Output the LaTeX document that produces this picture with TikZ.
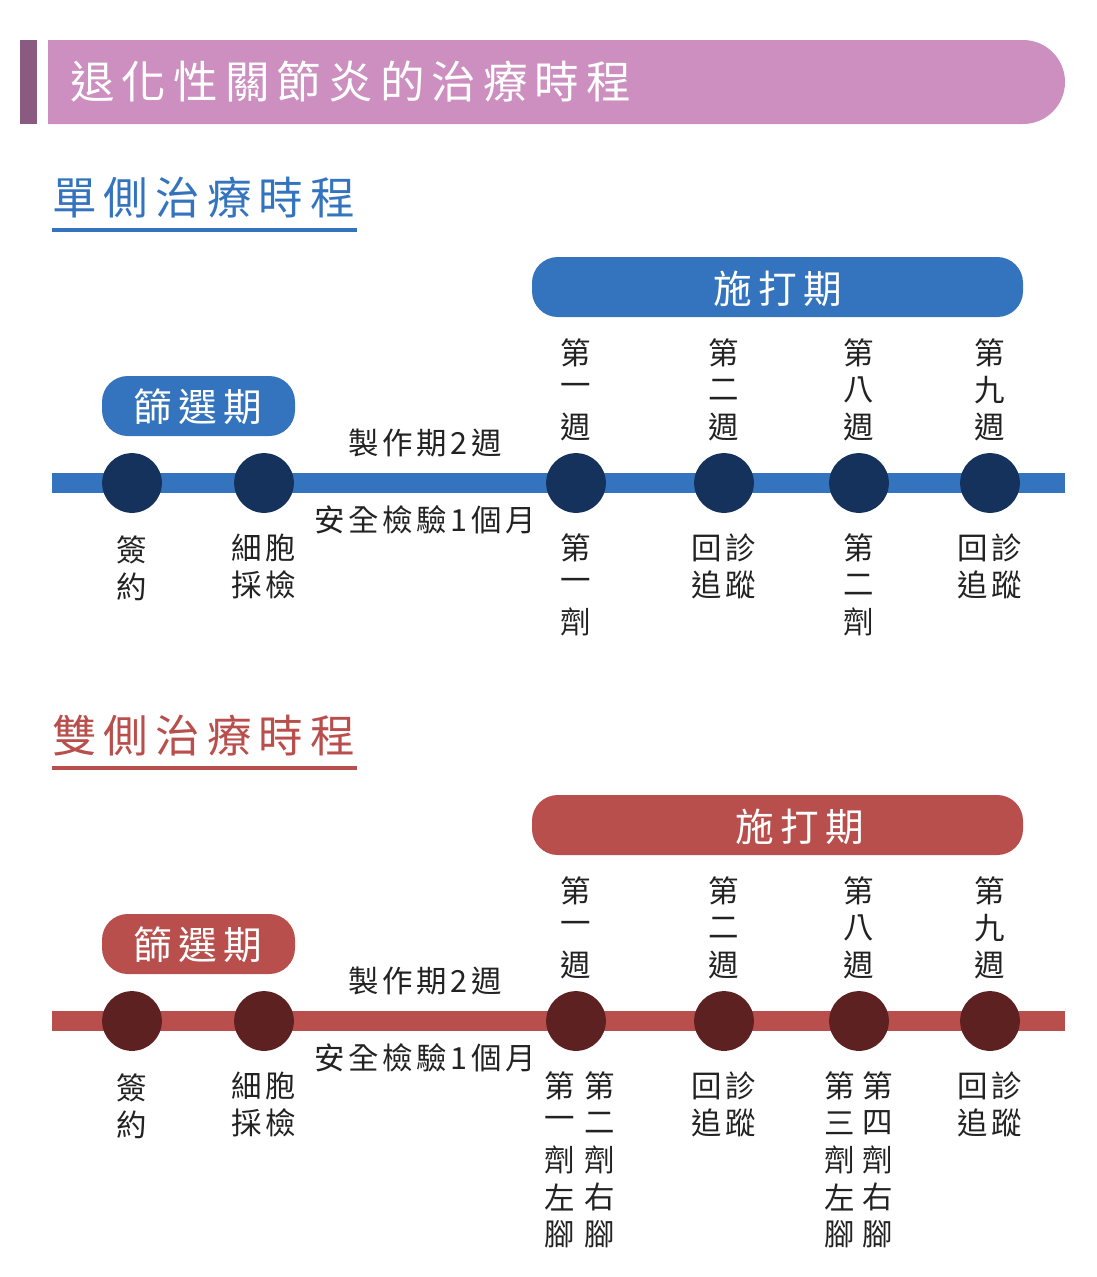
\documentclass[tikz,border=0pt]{standalone}
\usepackage{fontspec}
\setmainfont{Noto Sans CJK TC}
\definecolor{pinkbar}{HTML}{CC8FBF}
\definecolor{purpbar}{HTML}{8B5A80}
\definecolor{blu}{HTML}{3474BE}
\definecolor{bludot}{HTML}{14325C}
\definecolor{redd}{HTML}{B94F4C}
\definecolor{reddot}{HTML}{5E2121}
\definecolor{txt}{HTML}{222222}
\tikzset{
 lbl/.style={font=\fontsize{26}{28}\selectfont\addfontfeature{LetterSpace=12}, text=txt, inner sep=0pt},
 head/.style={font=\fontsize{38}{40}\selectfont\addfontfeature{LetterSpace=16}, inner sep=0pt, anchor=west},
 boxtxt/.style={font=\fontsize{33}{35}\selectfont, text=white, inner sep=0pt},
 dot/.style={circle, minimum size=51pt, inner sep=0pt},
}
\newcommand{\vcol}[4]{% x, y0, name prefix, list
 \foreach \c [count=\i] in {#4} {\node[lbl] (#3\i) at (#1, #2+37*\i-37) {\c};}}
\begin{document}
\begin{tikzpicture}[x=0.03cm,y=-0.03cm]
\useasboundingbox (0,0) rectangle (1097,1277);
% title
\fill[purpbar] (20,40) rectangle (37,124);
\fill[pinkbar] (48,40) -- (1023,40) arc[start angle=90,end angle=-90,radius=1.26cm] -- (48,124) -- cycle;
\node[head, text=white] (title) at (70,82) {退化性關節炎的治療時程};
\foreach \off/\main/\dk/\hd/\nm in {0/blu/bludot/單側治療時程/a, 538/redd/reddot/雙側治療時程/b} {
 \begin{scope}[yshift=-\off*0.03cm]
 \node[head, text=\main] (\nm h) at (52,198) {\hd};
 \draw[\main, line width=2.6pt] (52,230) -- (357,230);
 \fill[\main, rounded corners=22pt] (532,257) rectangle (1023,317);
 \fill[\main, rounded corners=22pt] (102,376) rectangle (295,436);
 \node[boxtxt] (\nm s) at (198,407) {篩\,選\,期};
 \fill[\main] (52,473) rectangle (1065,493);
 \foreach \x/\k in {132/1,264/2,576/3,724/4,859/5,990/6}
   \node[dot, fill=\dk] (\nm d\k) at (\x,483) {};
 \node[lbl] (\nm m) at (425,443) {製作期2週};
 \node[lbl] (\nm q) at (425,520) {安全檢驗1個月};
 \vcol{576}{353}{\nm u1}{第,一,週}
 \vcol{724}{353}{\nm u2}{第,二,週}
 \vcol{859}{353}{\nm u3}{第,八,週}
 \vcol{990}{353}{\nm u4}{第,九,週}
 \vcol{132}{550}{\nm l1}{簽,約}
 \vcol{264}{548}{\nm l2}{細胞,採檢}
 \vcol{724}{548}{\nm l4}{回診,追蹤}
 \vcol{990}{548}{\nm l6}{回診,追蹤}
 \end{scope}
}
\node[boxtxt] (aP) at (778,289) {施\,打\,期};
\node[boxtxt] (bP) at (800,827) {施\,打\,期};
\vcol{576}{548}{al3}{第,一,劑}
\vcol{859}{548}{al5}{第,二,劑}
\vcol{560}{1086}{bl3a}{第,一,劑,左,腳}
\vcol{600}{1086}{bl3b}{第,二,劑,右,腳}
\vcol{840}{1086}{bl5a}{第,三,劑,左,腳}
\vcol{878}{1086}{bl5b}{第,四,劑,右,腳}
\end{tikzpicture}
\end{document}
